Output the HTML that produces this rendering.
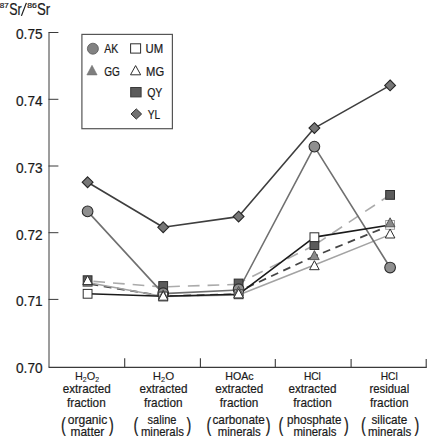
<!DOCTYPE html>
<html><head><meta charset="utf-8">
<style>
html,body{margin:0;padding:0;background:#fff;}
body{width:427px;height:439px;overflow:hidden;}
svg{display:block;}
text{font-family:"Liberation Sans",sans-serif;fill:#1a1a1a;stroke:#1a1a1a;stroke-width:0.22px;}
</style></head>
<body>
<svg width="427" height="439" viewBox="0 0 427 439">
<!-- title -->
<g id="title" style="stroke-width:0.08px">
<text x="-0.2" y="8.2" font-size="7.8" textLength="9" lengthAdjust="spacingAndGlyphs">87</text>
<text x="9.2" y="15.3" font-size="16.2" textLength="12.4" lengthAdjust="spacingAndGlyphs">Sr</text>
<path d="M21.4 15.9L26.4 2.9" stroke="#1e1e1e" stroke-width="1.25" fill="none"/>
<text x="27.2" y="8.2" font-size="7.8" textLength="9.6" lengthAdjust="spacingAndGlyphs">86</text>
<text x="37" y="15.3" font-size="16.2" textLength="13.2" lengthAdjust="spacingAndGlyphs">Sr</text>
</g>
<!-- y axis labels -->
<g font-size="15.2" text-anchor="end" style="stroke-width:0px">
<text x="42.6" y="39.4" textLength="26.6" lengthAdjust="spacingAndGlyphs">0.75</text>
<text x="42.6" y="106.1" textLength="26.6" lengthAdjust="spacingAndGlyphs">0.74</text>
<text x="42.6" y="172.8" textLength="26.6" lengthAdjust="spacingAndGlyphs">0.73</text>
<text x="42.6" y="239.5" textLength="26.6" lengthAdjust="spacingAndGlyphs">0.72</text>
<text x="42.6" y="306.2" textLength="26.6" lengthAdjust="spacingAndGlyphs">0.71</text>
<text x="42.6" y="373" textLength="26.6" lengthAdjust="spacingAndGlyphs">0.70</text>
</g>
<!-- axes -->
<g fill="none">
<path d="M49 32.5V367" stroke="#3a3a3a" stroke-width="1"/>
<path d="M48.5 32.5H58.4M48.5 99.3H58.4M48.5 166H58.4M48.5 232.7H58.4M48.5 299.4H58.4" stroke="#3a3a3a" stroke-width="1"/>
<path d="M48.5 367.4H426.6" stroke="#3a3a3a" stroke-width="1.2"/>
<path d="M124.7 367V358.2M200.4 367V358.2M275.3 367V358.9M351.1 367V359M426.2 367.8V359" stroke="#3a3a3a" stroke-width="1.1"/>
</g>
<!-- legend -->
<rect x="81.9" y="34.4" width="90.5" height="94.3" fill="#fff" stroke="#555" stroke-width="1.2"/>

<!-- lines -->
<g fill="none" stroke-width="1.6" stroke-linejoin="round">
<polyline stroke="#454545" stroke-width="1.8" stroke-dasharray="7.8 5.6" stroke-dashoffset="10.4" points="87.6,283.6 163.2,296.2 238.6,294.2"/>
<line stroke="#454545" stroke-width="1.8" stroke-dasharray="7.8 5.6" stroke-dashoffset="4.35" x1="238.6" y1="291.4" x2="314.4" y2="256.2"/>
<line stroke="#454545" stroke-width="1.8" stroke-dasharray="7.8 5.6" stroke-dashoffset="4.16" x1="314.4" y1="256.2" x2="390.1" y2="225.4"/>
<polyline stroke="#a3a3a3" stroke-width="1.5" points="87.6,282.4 163.2,296.4 238.6,295 314.4,265 390.1,234.6"/>
<line stroke="#ababab" stroke-dasharray="11.7 8" stroke-dashoffset="13.9" x1="87.6" y1="280.9" x2="163.2" y2="287"/>
<line stroke="#ababab" stroke-dasharray="11.7 8" stroke-dashoffset="14.7" x1="163.2" y1="286.9" x2="238.6" y2="284.3"/>
<line stroke="#ababab" stroke-dasharray="11.7 8" stroke-dashoffset="4.4" x1="238.6" y1="283.4" x2="314.4" y2="245.2"/>
<line stroke="#ababab" stroke-dasharray="11.7 8" stroke-dashoffset="17.8" x1="314.4" y1="245.2" x2="390.1" y2="194.9"/>
<polyline stroke="#707070" points="87.6,211.4 163.2,293.6 238.6,290 314.4,146.6 390.1,267.5"/>
<polyline stroke="#1a1a1a" points="87.6,293.8 163.2,296.2 238.6,294.3 314.4,237.1 390.1,225"/>
<polyline stroke="#3e3e3e" points="87.6,182.2 163.2,227.3 238.6,216.6 314.4,128.1 390.1,85.4"/>
</g>

<defs>
<rect id="mSq" x="-4.4" y="-4.4" width="8.8" height="8.8"/>
<circle id="mCi" r="5.35"/>
<path id="mTr" d="M0 -4.6L4.8 4.4H-4.8Z"/>
<path id="mDi" d="M0 -5.4L5.4 0L0 5.4L-5.4 0Z"/>
</defs>

<!-- markers: QY -->
<g fill="#5b5b5b" stroke="#2e2e2e" stroke-width="1">
<use href="#mSq" x="87.6" y="280.2"/><use href="#mSq" x="163.2" y="286"/><use href="#mSq" x="238.6" y="283.5"/><use href="#mSq" x="314.4" y="245.1"/><use href="#mSq" x="390.1" y="194.9"/>
</g>
<!-- AK -->
<g fill="#8f8f8f" stroke="#2a2a2a" stroke-width="1.05">
<use href="#mCi" x="87.6" y="211.4"/><use href="#mCi" x="163.2" y="293.2"/><use href="#mCi" x="238.6" y="289.2"/><use href="#mCi" x="314.4" y="146.6"/><use href="#mCi" x="390.1" y="267.5"/>
</g>
<!-- UM -->
<g fill="#fff" stroke="#2e2e2e" stroke-width="1">
<use href="#mSq" x="87.6" y="293.8"/><use href="#mSq" x="163.2" y="296.5"/><use href="#mSq" x="238.6" y="294.3"/><use href="#mSq" x="314.4" y="237.2"/><use href="#mSq" x="390.1" y="224.9" stroke="#a0a0a0"/>
</g>
<!-- GG -->
<g fill="#8a8a8a" stroke="#4a4a4a" stroke-width="0.9">
<use href="#mTr" x="87.6" y="281.8"/><use href="#mTr" x="163.2" y="294.5"/><use href="#mTr" x="238.6" y="291"/><use href="#mTr" x="314.4" y="255.2"/><use href="#mTr" x="390.1" y="222.4"/>
</g>
<!-- MG -->
<g fill="#fff" stroke="#2e2e2e" stroke-width="1">
<use href="#mTr" x="87.6" y="280.2"/><use href="#mTr" x="163.2" y="295.8"/><use href="#mTr" x="238.6" y="293.5"/><use href="#mTr" x="314.4" y="265.3"/><use href="#mTr" x="390.1" y="233.6"/>
</g>
<!-- YL -->
<g fill="#777" stroke="#262626" stroke-width="1.1">
<use href="#mDi" x="87.6" y="182.2"/><use href="#mDi" x="163.2" y="227.3"/><use href="#mDi" x="238.6" y="216.6"/><use href="#mDi" x="314.4" y="128.1"/><use href="#mDi" x="390.1" y="85.4"/>
</g>

<!-- legend items -->
<g>
<circle cx="92.9" cy="48.7" r="5.5" fill="#828282" stroke="#555" stroke-width="0.8"/>
<path d="M92 65.3L97.1 74.9H86.9Z" fill="#7e7e7e" stroke="#707070" stroke-width="0.6"/>
<rect x="130.6" y="43.8" width="10" height="9.3" fill="#fff" stroke="#2e2e2e" stroke-width="1"/>
<path d="M135.6 65.6L140.7 74.8H130.5Z" fill="#fff" stroke="#2e2e2e" stroke-width="1"/>
<rect x="130.7" y="87.5" width="10.4" height="9.4" fill="#5b5b5b" stroke="#3a3a3a" stroke-width="1"/>
<path d="M136.3 108.9L141.6 114L136.3 119.1L131 114Z" fill="#727272" stroke="#2e2e2e" stroke-width="1"/>
</g>
<g font-size="12.5" style="stroke-width:0.12px">
<text x="104.2" y="53.1" textLength="14" lengthAdjust="spacingAndGlyphs">AK</text>
<text x="104.3" y="75.9" textLength="15.6" lengthAdjust="spacingAndGlyphs">GG</text>
<text x="145.6" y="53.1" textLength="17.6" lengthAdjust="spacingAndGlyphs">UM</text>
<text x="146.1" y="75.9" textLength="18" lengthAdjust="spacingAndGlyphs">MG</text>
<text x="147.2" y="97.3" textLength="15.2" lengthAdjust="spacingAndGlyphs">QY</text>
<text x="147.7" y="119.3" textLength="12.4" lengthAdjust="spacingAndGlyphs">YL</text>
</g>

<!-- x labels -->
<g font-size="13.6" text-anchor="middle">
<!-- cat1 -->
<text x="87" y="379.7" font-size="11.6" textLength="24.2" lengthAdjust="spacingAndGlyphs" style="stroke-width:0.1px">H<tspan font-size="7.4" dy="2">2</tspan><tspan dy="-2">O</tspan><tspan font-size="7.4" dy="2">2</tspan></text>
<text x="86.8" y="393.2" textLength="48" lengthAdjust="spacingAndGlyphs">extracted</text>
<text x="86.4" y="406.5" textLength="38.6" lengthAdjust="spacingAndGlyphs">fraction</text>
<text x="87.5" y="423.9" textLength="39.6" lengthAdjust="spacingAndGlyphs">organic</text>
<text x="87.4" y="436.2" textLength="33.8" lengthAdjust="spacingAndGlyphs">matter</text>
<!-- cat2 -->
<text x="163.5" y="379.7" font-size="11.6" textLength="21.4" lengthAdjust="spacingAndGlyphs" style="stroke-width:0.1px">H<tspan font-size="7.4" dy="2">2</tspan><tspan dy="-2">O</tspan></text>
<text x="163.4" y="393.2" textLength="48" lengthAdjust="spacingAndGlyphs">extracted</text>
<text x="163.2" y="406.5" textLength="38.6" lengthAdjust="spacingAndGlyphs">fraction</text>
<text x="162" y="423.9" textLength="28.8" lengthAdjust="spacingAndGlyphs">saline</text>
<text x="162.4" y="436.2" textLength="43" lengthAdjust="spacingAndGlyphs">minerals</text>
<!-- cat3 -->
<text x="239.4" y="379.7" font-size="11.6" textLength="28.4" lengthAdjust="spacingAndGlyphs">HOAc</text>
<text x="239.2" y="393.2" textLength="48" lengthAdjust="spacingAndGlyphs">extracted</text>
<text x="239.1" y="406.5" textLength="38.6" lengthAdjust="spacingAndGlyphs">fraction</text>
<text x="238.6" y="423.9" textLength="52.2" lengthAdjust="spacingAndGlyphs">carbonate</text>
<text x="239.3" y="436.2" textLength="43" lengthAdjust="spacingAndGlyphs">minerals</text>
<!-- cat4 -->
<text x="312.4" y="379.7" font-size="11.6" textLength="17" lengthAdjust="spacingAndGlyphs">HCl</text>
<text x="312.4" y="393.2" textLength="48" lengthAdjust="spacingAndGlyphs">extracted</text>
<text x="312.5" y="406.5" textLength="38.6" lengthAdjust="spacingAndGlyphs">fraction</text>
<text x="314.3" y="423.9" textLength="54.4" lengthAdjust="spacingAndGlyphs">phosphate</text>
<text x="314.9" y="436.2" textLength="43" lengthAdjust="spacingAndGlyphs">minerals</text>
<!-- cat5 -->
<text x="389.2" y="379.7" font-size="11.6" textLength="17" lengthAdjust="spacingAndGlyphs">HCl</text>
<text x="389.3" y="393.2" textLength="39.8" lengthAdjust="spacingAndGlyphs">residual</text>
<text x="389.2" y="406.5" textLength="38.6" lengthAdjust="spacingAndGlyphs">fraction</text>
<text x="389.4" y="423.9" textLength="35.8" lengthAdjust="spacingAndGlyphs">silicate</text>
<text x="389.6" y="436.2" textLength="43.4" lengthAdjust="spacingAndGlyphs">minerals</text>
</g>
<!-- parentheses -->
<g font-size="19.5">
<text x="61" y="432.2" textLength="4.8" lengthAdjust="spacingAndGlyphs">(</text><text x="109" y="432.2" textLength="4.8" lengthAdjust="spacingAndGlyphs">)</text>
<text x="133.4" y="432.2" textLength="4.8" lengthAdjust="spacingAndGlyphs">(</text><text x="186.6" y="432.2" textLength="4.8" lengthAdjust="spacingAndGlyphs">)</text>
<text x="206.5" y="432.2" textLength="4.8" lengthAdjust="spacingAndGlyphs">(</text><text x="265.8" y="432.2" textLength="4.8" lengthAdjust="spacingAndGlyphs">)</text>
<text x="278.6" y="432.2" textLength="4.8" lengthAdjust="spacingAndGlyphs">(</text><text x="343.9" y="432.2" textLength="4.8" lengthAdjust="spacingAndGlyphs">)</text>
<text x="361.1" y="432.2" textLength="4.8" lengthAdjust="spacingAndGlyphs">(</text><text x="414.4" y="432.2" textLength="4.8" lengthAdjust="spacingAndGlyphs">)</text>
</g>
</svg>
</body></html>
